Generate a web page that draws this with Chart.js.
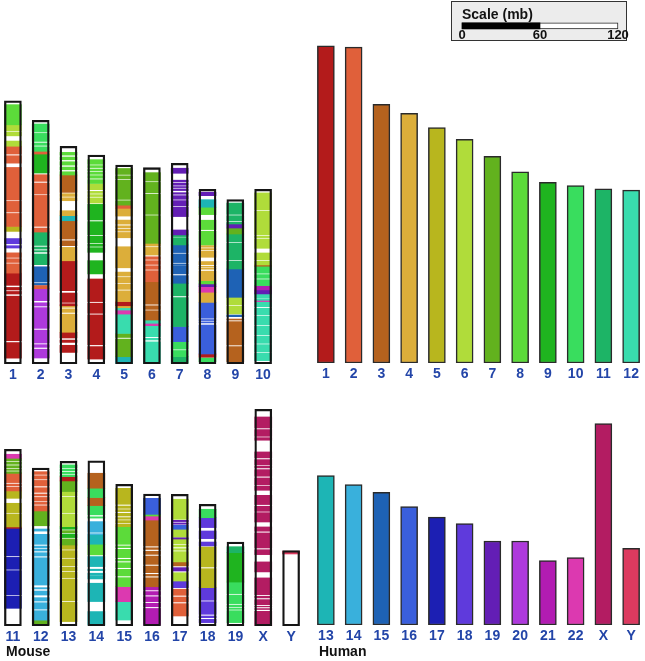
<!DOCTYPE html>
<html>
<head>
<meta charset="utf-8">
<script src="https://cdn.jsdelivr.net/npm/chart.js@4.4.1/dist/chart.umd.min.js"></script>
<style>
  body { margin: 0; background: #fff; width: 645px; height: 661px; position: relative; overflow: hidden; font-family: 'Liberation Sans', Arial, sans-serif; }
  canvas { position: absolute; }
  #scalebox { position: absolute; left: 451px; top: 1px; width: 174px; height: 38px; border: 1.5px solid #333; background: #ececec; }
  .lbl { position: absolute; font-weight: bold; font-size: 14px; line-height: 16px; color: #111; }
</style>
</head>
<body>
<div id="scalebox"></div>
<canvas id="scale" width="184" height="38" style="left:448px;top:4px"></canvas>
<canvas id="mouseTop" width="278" height="362" style="left:-1px;top:26px"></canvas>
<canvas id="humanTop" width="333" height="362" style="left:312px;top:25px"></canvas>
<canvas id="mouseBottom" width="306" height="362" style="left:-1px;top:288px"></canvas>
<canvas id="humanBottom" width="333" height="362" style="left:312px;top:287px"></canvas>
<div class="lbl" style="left:6px;top:643px">Mouse</div>
<div class="lbl" style="left:319px;top:643px">Human</div>
<script>
// human chromosomes (mb)
const humanTopLabels = ['1','2','3','4','5','6','7','8','9','10','11','12'];
const humanTopLen = [244, 243, 199, 192, 181, 172, 159, 147, 139, 136.5, 134, 133];
const humanBottomLabels = ['13','14','15','16','17','18','19','20','21','22','X','Y'];
const humanBottomLen = [115, 108, 102, 91, 83, 78, 64.6, 64.6, 49.5, 51.8, 155, 59];

// colour of each human chromosome (used for mouse blocks too)
const humanKeys = ['1','2','3','4','5','6','7','8','9','10','11','12','13','14','15','16','17','18','19','20','21','22','X','Y'];
const humanColors = ['#b31b1b','#e0603a','#b5621e','#dcae3a','#b8b61e','#b0dc3a','#62b21e','#5cdb3a','#1fb41f','#39dd5e','#1db466','#39dcae',
  '#1db5b5','#39b0dc','#1e62b5','#3a5fdc','#1c1fb3','#5f3adc','#631eb5','#ae39dc','#b21cb2','#dc39b0','#b31c62','#dc3a5f'];

// mouse chromosomes (mb)
const mouseTopLabels = ['1','2','3','4','5','6','7','8','9','10'];
const mouseTopLen = [202.5, 187.4, 167.4, 160.8, 153, 151, 154.4, 134.4, 126.4, 134.4];
const mouseBottomLabels = ['11','12','13','14','15','16','17','18','19','X','Y'];
const mouseBottomLen = [135.9, 121.5, 126.7, 127, 109, 101.5, 101.3, 93.6, 64.6, 166.7, 58];

// conserved blocks: [human chr, start, end] in mb measured from the top of the mouse chromosome
const mm1 = [['8',3,18.5],['6',18.5,23],['6',24,27],['6',31,35],['2',35,41],['2',42.3,48],['2',51.3,76.4],['2',77.4,85.6],['2',86.7,96.7],
  ['5',96.7,100.5],['18',106,110],['18',111.5,113.3],['2',117,120.5],['2',121.5,124.4],['2',125.4,132.6],
  ['1',132.6,142],['1',143.6,145.6],['1',146.7,148.7],['1',150.3,184.6],['1',186,198]];
const mm2 = [['10',2.8,9],['10',10,16.2],['10',17.4,19.2],['10',20.3,23.8],['2',23.8,25.9],['9',25.9,40.5],
  ['2',41.8,46.9],['2',48.2,56.7],['2',57.7,81.5],['2',82.8,85.9],['11',85.9,96.2],['11',97.4,99],['11',100.2,101.2],['11',102.8,111],
  ['15',112.6,124.4],['15',125.4,126.5],['2',127,129.5],['20',129.5,138.7],['20',140.3,142.8],['20',144,160],['20',161.3,171.3],['20',172.5,174.6],['20',176,182.8]];
const mm3 = [['8',4.6,6.7],['8',8.2,10.3],['8',11.8,14.4],['8',15.9,18],['8',19.5,22],['3',22,35.4],['4',36.4,38.5],['4',39.5,41.8],
  ['4',49.5,53.3],['13',53.3,57.2],['3',57.2,71.3],['3',72.6,76.4],['4',77.7,88],['1',88,111],['1',112.8,120],['1',121,122.6],
  ['4',122.6,123.8],['4',125,127.7],['4',129,143],['1',143,147.4],['1',149,150.8],['1',153,158.5]];
const mm4 = [['8',3.6,7.2],['8',8.2,9.7],['8',10.8,12.3],['8',13.3,14.9],['8',15.9,17.9],['8',19,22],['6',22.6,26.7],['6',28,29.5],['6',30.5,32],['6',33,37],
  ['9',38,50],['9',51.3,61.5],['9',62.6,67.7],['9',68.7,70.3],['9',71.3,74.9],['9',81.3,91.5],
  ['1',95.4,112.8],['1',114,121.8],['1',123,146],['1',147.4,157]];
const mm5 = [['7',2.6,7.2],['7',8.2,10.5],['7',11.5,26.4],['7',27.4,30.8],['2',30.8,33.3],['4',33.3,39.2],['4',42.3,45.4],['4',46.7,48.2],['4',49.2,50.8],
  ['4',51.8,55.9],['4',62.8,79],['4',82.3,85.4],['4',86.4,90.5],['4',91.5,95.6],['4',96.7,105],['1',105,108.2],['4',108.2,109.7],
  ['12',109.7,111.5],['22',111.5,114.6],['12',114.6,129.5],['7',129.5,132.6],['7',133.8,147.4],['13',147.4,152.6]];
const mm6 = [['7',3.8,10.3],['7',11.3,19.2],['7',20.3,35.9],['7',36.9,58.2],['4',58.2,60.3],['4',61.3,67.2],['2',68.5,70.5],['2',71.5,74.4],['2',75.4,78.2],['2',79.2,87.7],
  ['3',87.7,105],['3',106.2,109],['3',110,117.2],['12',117.2,119.7],['22',119.7,121.5],['12',121.5,130],['12',131.2,132.5],['12',134,150.5]];
const mm7 = [['19',3.8,7.7],['19',13,14.4],['19',15.4,16.9],['19',17.9,18.7],['19',19.7,21],['19',22.6,23.8],['19',24.9,27.7],['19',28.7,32.8],['19',33.8,41],
  ['19',51.3,55.1],['11',55.1,56.4],['11',57.2,62.8],['15',62.8,68.7],['15',69.7,76.4],['15',77.4,78.2],['15',78.7,85.1],['15',86.4,92.3],
  ['11',92.3,102],['11',103.3,125.6],['16',125.6,137.2],['10',137.2,143],['10',144,148.7],['11',148.7,153.8]];
const mm8 = [['19',2.3,4.9],['13',8,13.8],['8',13.8,19.5],['8',23.8,31],['8',32.3,42.8],['4',43.3,44.6],['4',45.6,46.7],['4',47.7,52.3],['4',55.6,58],
  ['4',59.2,59.7],['4',60.5,61.5],['4',63,70.3],['8',70.3,72.8],['19',72.8,74.9],['22',74.9,79.2],['4',79.2,87],
  ['16',87,99.2],['16',100.2,101],['16',102,102.8],['16',104.4,126.7],['1',126.7,129.2],['10',129.7,132.6]];
const mm9 = [['11',2.6,11.3],['11',12.3,16.4],['11',17.4,18.7],['19',18.7,21.8],['7',21.8,26.4],['11',26.4,32.3],['11',33.3,46.4],['11',47.4,53.3],
  ['15',53.3,75.1],['6',75.1,81],['6',82,87.9],['15',88.7,90],['3',91.8,92.6],['3',93.8,111.8],['3',113,124.6]];
const mm10 = [['6',2.8,15.9],['6',16.9,35.1],['6',36.1,37.2],['6',38.2,45.4],['6',49,54.4],['6',55.4,58.2],['3',58.2,59.2],
  ['10',59.2,64.6],['10',65.6,68.5],['10',69.5,74.1],['21',74.1,77.4],['19',77.4,80.5],['12',80.5,83.8],['12',84.4,85.4],['22',85.4,86.4],
  ['12',86.4,90.3],['12',91.5,96.7],['12',97.7,104.4],['12',105.4,112],['12',113,118.5],['12',119.5,124.9],['12',125.9,131.8]];
const mm11 = [['22',3.8,6.9],['7',6.9,9],['7',10,11.5],['7',12.6,14.1],['7',15.1,16.2],['7',17.2,18.5],['2',18.5,25.6],['2',26.7,28.2],['2',29.2,32],
  ['5',32,37.7],['5',41.5,48.7],['5',49.7,59.7],['1',59.7,60.8],['17',60.8,82],['17',83.1,92.3],['17',93.3,112],['17',113,122.3]];
const mm12 = [['2',2.8,4.9],['2',5.9,8.5],['2',9.5,13.8],['2',15.1,18.7],['2',20,21.5],['2',22.6,25.4],['2',26.4,27.9],['2',29,33],['7',33,44.4],
  ['14',46.9,48.5],['14',51,58.7],['14',60,61.3],['14',62.3,63.8],['14',65.1,67.7],['14',69,90],['14',92,93],['14',94.6,97.7],
  ['14',99.7,102.3],['14',103.6,108.5],['14',109.7,117],['7',117,120.8]];
const mm13 = [['10',2.8,4.9],['10',5.9,7.4],['10',8.5,9.5],['10',10.5,11.8],['1',11.8,15.1],['7',15.1,23.3],['6',23.3,26.7],['6',27.7,39.5],['6',40.5,50.3],
  ['9',50.3,52.3],['7',53.3,54.9],['9',55.9,58.7],['7',59.7,64.4],['5',64.4,67.7],['5',68.7,74.1],['5',75.1,80.5],['5',81.5,84.4],
  ['5',85.4,89.5],['5',90.5,107.4],['5',108.5,123.3]];
const mm14 = [['3',9.5,21],['10',21,28.2],['3',28.2,34.4],['10',34.4,41.5],['10',43,44],['14',46.7,54.9],['14',56,56.7],['13',57,64.1],['8',64.1,72.3],
  ['13',73.6,81.3],['13',83.3,84.4],['13',86.4,87.7],['13',88.2,90.8],['13',94.1,108.2],['13',115.9,126.2]];
const mm15 = [['5',3.1,15.4],['5',16.7,18.5],['5',19.5,21],['5',22.3,24.4],['5',25.6,26.9],['5',27.9,29.5],['5',30.5,32.6],['8',32.6,46.2],['8',47.4,48.7],
  ['8',50,56.4],['8',57.7,59],['8',60.3,64.1],['8',65.4,70.5],['8',71.8,78.7],['22',78.7,90.3],['12',90.3,104.4]];
const mm16 = [['16',3.3,15.6],['8',15.6,16.9],['22',16.9,20],['3',20,40],['3',41.3,42.6],['3',44,46.4],['3',47.7,54.1],['3',55.4,60.5],['3',61.8,63.1],
  ['3',64.4,71.3],['21',71.3,73.8],['21',75,77.7],['21',79,82.8],['21',84,86.7],['21',88,100.8]];
const mm17 = [['6',3.8,19.2],['19',20,21],['19',22,23],['16',23.8,26.9],['6',26.9,32.8],['19',33.3,34.4],['6',34.6,38],['6',39,40.5],['6',41.8,43],
  ['6',44.1,52],['3',52,55.1],['19',56.4,59],['6',60.3,66.7],['18',66.7,71.8],['2',73,77.7],['2',79,82.8],['2',84.1,93.6]];
const mm18 = [['10',3.8,10.3],['18',10.3,17.9],['18',20.5,26.4],['18',29,32],['5',32.8,48.2],['5',49.5,64.1],['18',64.1,73.8],['18',74.9,84.6],
  ['18',85.9,87.2],['18',88.5,91]];
const mm19 = [['11',3.6,8.2],['9',8.2,30.8],['10',30.8,39.7],['10',40.8,47.4],['10',48.5,50],['10',51,51.8],['10',52.8,62]];
const mmX = [['X',5.9,14.4],['X',15.6,20.8],['X',21.8,23.8],['X',32.8,37.4],['X',38.7,42.6],['X',43.6,45.1],['X',46.4,51.5],['X',52.8,58],['X',59,62.3],
  ['X',66.2,73.3],['X',74.6,78.5],['X',79.5,86.7],['X',90.5,93.8],['X',95.1,106.7],['X',108,111.8],['X',117.4,125.1],
  ['X',129.7,142.6],['X',143.8,145.1],['X',146.4,150.3],['X',151.5,152],['X',153.3,154],['X',155.4,166.7]];
const mmY = [['Y',0.5,2.6]];

// scale bar
const scaleTicks = [0, 60, 120];
const scaleFilled = [0, 60];

const labelBlue = '#2345a8';
const yMax = 260;
Chart.defaults.font.family = "'Liberation Sans', Arial, sans-serif";

function colorOf(chr) {
  return humanColors[humanKeys.indexOf(chr)];
}

function panelChart(id, labels, datasets) {
  return new Chart(document.getElementById(id), {
    type: 'bar',
    data: { labels: labels, datasets: datasets },
    options: {
      responsive: false,
      animation: false,
      layout: { padding: 0 },
      plugins: { legend: { display: false }, tooltip: { enabled: false } },
      scales: {
        x: {
          grid: { display: false, drawTicks: false },
          border: { display: false },
          ticks: { color: labelBlue, font: { size: 14, weight: 'bold' }, padding: 3, autoSkip: false, maxRotation: 0 },
          afterFit: function(s) { s.height = 24; }
        },
        y: { display: false, min: 0, max: yMax }
      }
    }
  });
}

function humanDatasets(labels, lens) {
  return [{
    data: lens,
    backgroundColor: labels.map(colorOf),
    borderColor: '#2a2a2a',
    borderWidth: 1.5,
    borderSkipped: false,
    barThickness: 17
  }];
}

function mouseDatasets(lens, blocks) {
  const sets = [];
  // outline on top
  sets.push({ data: lens.map(l => [0, l]), backgroundColor: 'rgba(0,0,0,0)', borderColor: '#151515',
    borderWidth: 1.6, borderSkipped: false, barThickness: 17, grouped: false });
  const n = Math.max(...blocks.map(b => b.length));
  for (let k = 0; k < n; k++) {
    sets.push({
      data: blocks.map((b, i) => b[k] ? [lens[i] - b[k][2], lens[i] - b[k][1]] : null),
      backgroundColor: blocks.map(b => b[k] ? colorOf(b[k][0]) : 'rgba(0,0,0,0)'),
      borderWidth: 0, barThickness: 17, grouped: false
    });
  }
  sets.push({ data: lens.map(l => [0, l]), backgroundColor: '#ffffff', borderWidth: 0, barThickness: 17, grouped: false });
  return sets;
}

panelChart('humanTop', humanTopLabels, humanDatasets(humanTopLabels, humanTopLen));
panelChart('humanBottom', humanBottomLabels, humanDatasets(humanBottomLabels, humanBottomLen));
panelChart('mouseTop', mouseTopLabels, mouseDatasets(mouseTopLen, [mm1, mm2, mm3, mm4, mm5, mm6, mm7, mm8, mm9, mm10]));
panelChart('mouseBottom', mouseBottomLabels, mouseDatasets(mouseBottomLen, [mm11, mm12, mm13, mm14, mm15, mm16, mm17, mm18, mm19, mmX, mmY]));

new Chart(document.getElementById('scale'), {
  type: 'bar',
  data: {
    labels: [''],
    datasets: [
      { data: [scaleFilled], backgroundColor: '#000', borderWidth: 0, barThickness: 6, grouped: false, clip: false },
      { data: [[scaleTicks[0], scaleTicks[2]]], backgroundColor: '#fff', borderColor: '#222', borderWidth: 1,
        borderSkipped: false, barThickness: 6, grouped: false, clip: false }
    ]
  },
  options: {
    indexAxis: 'y',
    responsive: false,
    animation: false,
    layout: { padding: { left: 14, right: 14 } },
    plugins: {
      legend: { display: false },
      tooltip: { enabled: false },
      title: { display: true, text: 'Scale (mb)', align: 'start', color: '#111',
        font: { size: 14, weight: 'bold' }, padding: { top: 3, bottom: 0 } }
    },
    scales: {
      x: {
        min: scaleTicks[0], max: scaleTicks[2],
        grid: { display: false, drawTicks: false },
        border: { display: false },
        ticks: { stepSize: 60, color: '#111', font: { size: 13, weight: 'bold' }, padding: 0 },
        afterFit: function(s) { s.height = 14; }
      },
      y: { display: false }
    }
  }
});
</script>
</body>
</html>
